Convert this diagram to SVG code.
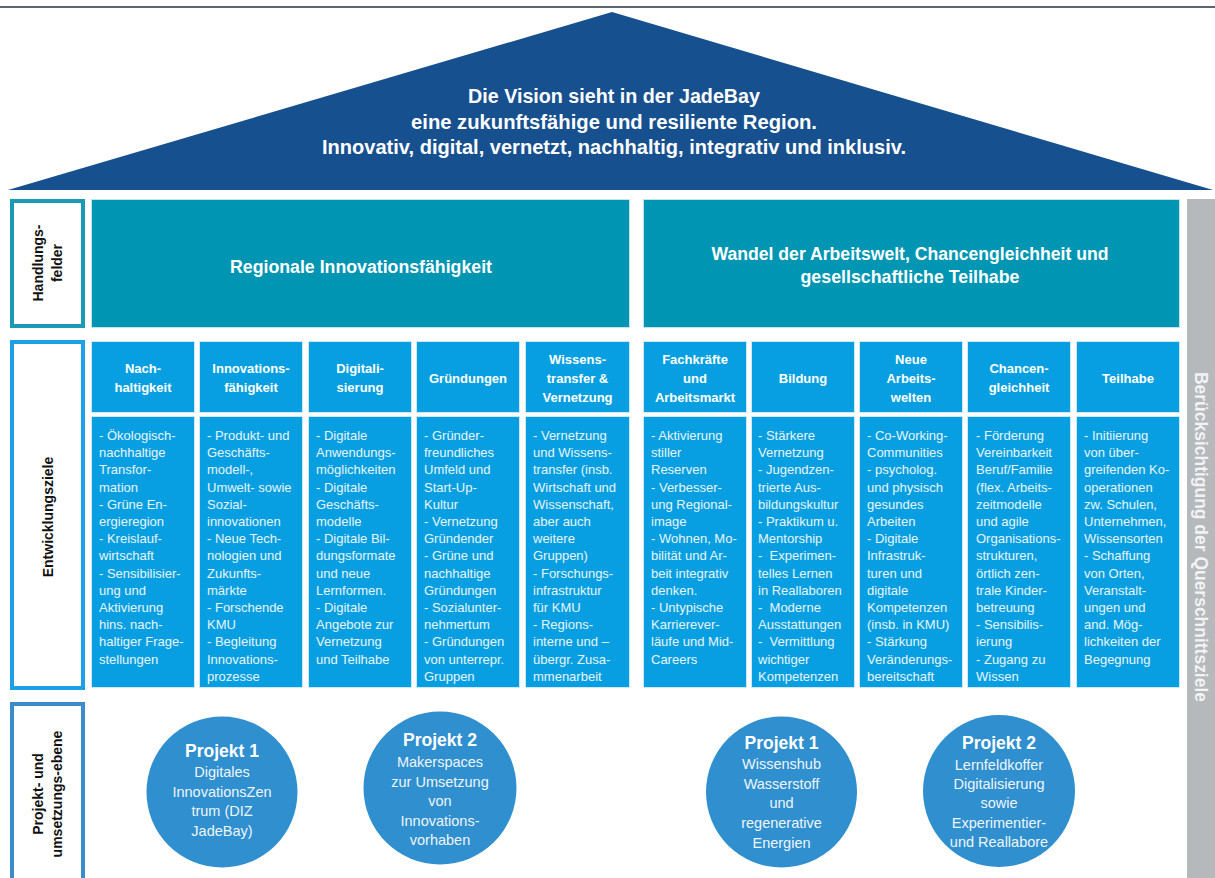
<svg xmlns="http://www.w3.org/2000/svg" width="1215" height="878" viewBox="0 0 1215 878">
<style>
.cell{fill:#079fe1;stroke:#cde9f8;stroke-width:1}
.teal{fill:#0096b3;stroke:#c4e4ec;stroke-width:1}
.ht{font-family:"Liberation Sans",Arial,sans-serif;font-weight:bold;font-size:13px;fill:#ffffff;text-anchor:middle}
.ct{font-family:"Liberation Sans",Arial,sans-serif;font-size:13px;fill:#e9f5fc}
.circ{fill:#2f8fcf}
.pt{font-family:"Liberation Sans",Arial,sans-serif;font-weight:bold;font-size:17.5px;fill:#ffffff;text-anchor:middle}
.pd{font-family:"Liberation Sans",Arial,sans-serif;font-size:14.5px;fill:#eef6fc;text-anchor:middle}
.lab{font-family:"Liberation Sans",Arial,sans-serif;font-weight:bold;font-size:14px;fill:#111111;text-anchor:middle}
.cond{font-family:"Liberation Sans Narrow","Liberation Sans",Arial,sans-serif;font-weight:bold;fill:#ffffff;text-anchor:middle}
</style>
<rect width="1215" height="878" fill="#ffffff"/>
<line x1="0" y1="7" x2="1215" y2="7" stroke="#5b6670" stroke-width="2"/>

<g id="roof">
<polygon points="8,190 612,12 1213,190" fill="#17508f"/>
<text class="cond" font-size="20" x="614" y="103" textLength="292" lengthAdjust="spacingAndGlyphs">Die Vision sieht in der JadeBay</text>
<text class="cond" font-size="20" x="614" y="129" textLength="406" lengthAdjust="spacingAndGlyphs">eine zukunftsfähige und resiliente Region.</text>
<text class="cond" font-size="20" x="614" y="154" textLength="584" lengthAdjust="spacingAndGlyphs">Innovativ, digital, vernetzt, nachhaltig, integrativ und inklusiv.</text>
</g>

<g id="label-handlungsfelder">
<rect x="12" y="201" width="71" height="125" fill="#ffffff" stroke="#1a9ab5" stroke-width="4"/>
<text class="lab" transform="translate(47.5,263) rotate(-90)"><tspan x="0" y="-4.5">Handlungs-</tspan><tspan x="0" y="14.5">felder</tspan></text>
</g>
<g id="label-entwicklungsziele">
<rect x="12" y="342" width="71" height="346" fill="#ffffff" stroke="#1ea0e6" stroke-width="4"/>
<text class="lab" transform="translate(47.5,517) rotate(-90)" x="0" y="5">Entwicklungsziele</text>
</g>
<g id="label-projektebene">
<rect x="12" y="704" width="71" height="180" fill="#ffffff" stroke="#3a8ccc" stroke-width="4"/>
<text class="lab" transform="translate(47.5,794) rotate(-90)"><tspan x="0" y="-4.5">Projekt- und</tspan><tspan x="0" y="14.5">umsetzungs-ebene</tspan></text>
</g>

<g id="querschnittsziele">
<rect x="1187" y="199" width="28" height="679" fill="#b5b9bb"/>
<text class="cond" font-size="18" fill="#f2f3f4" style="fill:#f2f3f4" transform="translate(1195,537) rotate(90)" x="0" y="0" textLength="330" lengthAdjust="spacingAndGlyphs">Berücksichtigung der Querschnittsziele</text>
</g>

<g id="handlungsfeld-1">
<rect class="teal" x="91.5" y="199.5" width="538" height="128"/>
<text class="cond" font-size="18" x="361" y="273" textLength="262" lengthAdjust="spacingAndGlyphs">Regionale Innovationsfähigkeit</text>
</g>
<g id="handlungsfeld-2">
<rect class="teal" x="643.5" y="199.5" width="536" height="128"/>
<text class="cond" font-size="18" x="910" y="260" textLength="397" lengthAdjust="spacingAndGlyphs">Wandel der Arbeitswelt, Chancengleichheit und</text>
<text class="cond" font-size="18" x="910" y="283" textLength="219" lengthAdjust="spacingAndGlyphs">gesellschaftliche Teilhabe</text>
</g>

<g id="ziel-nachhaltigkeit">
<rect class="cell" x="91.5" y="341.5" width="103" height="71"/>
<text class="ht"><tspan x="143" y="372.5">Nach-</tspan><tspan x="143" y="391.5">haltigkeit</tspan></text>
<rect class="cell" x="91.5" y="416.5" width="103" height="271"/>
<text class="ct" xml:space="preserve"><tspan x="99" y="440">- Ökologisch-</tspan><tspan x="99" dy="17.2">nachhaltige</tspan><tspan x="99" dy="17.2">Transfor-</tspan><tspan x="99" dy="17.2">mation</tspan><tspan x="99" dy="17.2">- Grüne En-</tspan><tspan x="99" dy="17.2">ergieregion</tspan><tspan x="99" dy="17.2">- Kreislauf-</tspan><tspan x="99" dy="17.2">wirtschaft</tspan><tspan x="99" dy="17.2">- Sensibilisier-</tspan><tspan x="99" dy="17.2">ung und</tspan><tspan x="99" dy="17.2">Aktivierung</tspan><tspan x="99" dy="17.2">hins. nach-</tspan><tspan x="99" dy="17.2">haltiger Frage-</tspan><tspan x="99" dy="17.2">stellungen</tspan></text>
</g>

<g id="ziel-innovationsfaehigkeit">
<rect class="cell" x="199.5" y="341.5" width="103" height="71"/>
<text class="ht"><tspan x="251" y="372.5">Innovations-</tspan><tspan x="251" y="391.5">fähigkeit</tspan></text>
<rect class="cell" x="199.5" y="416.5" width="103" height="271"/>
<text class="ct" xml:space="preserve"><tspan x="207" y="440">- Produkt- und</tspan><tspan x="207" dy="17.2">Geschäfts-</tspan><tspan x="207" dy="17.2">modell-,</tspan><tspan x="207" dy="17.2">Umwelt- sowie</tspan><tspan x="207" dy="17.2">Sozial-</tspan><tspan x="207" dy="17.2">innovationen</tspan><tspan x="207" dy="17.2">- Neue Tech-</tspan><tspan x="207" dy="17.2">nologien und</tspan><tspan x="207" dy="17.2">Zukunfts-</tspan><tspan x="207" dy="17.2">märkte</tspan><tspan x="207" dy="17.2">- Forschende</tspan><tspan x="207" dy="17.2">KMU</tspan><tspan x="207" dy="17.2">- Begleitung</tspan><tspan x="207" dy="17.2">Innovations-</tspan><tspan x="207" dy="17.2">prozesse</tspan></text>
</g>

<g id="ziel-digitalisierung">
<rect class="cell" x="308.5" y="341.5" width="103" height="71"/>
<text class="ht"><tspan x="360" y="372.5">Digitali-</tspan><tspan x="360" y="391.5">sierung</tspan></text>
<rect class="cell" x="308.5" y="416.5" width="103" height="271"/>
<text class="ct" xml:space="preserve"><tspan x="316" y="440">- Digitale</tspan><tspan x="316" dy="17.2">Anwendungs-</tspan><tspan x="316" dy="17.2">möglichkeiten</tspan><tspan x="316" dy="17.2">- Digitale</tspan><tspan x="316" dy="17.2">Geschäfts-</tspan><tspan x="316" dy="17.2">modelle</tspan><tspan x="316" dy="17.2">- Digitale Bil-</tspan><tspan x="316" dy="17.2">dungsformate</tspan><tspan x="316" dy="17.2">und neue</tspan><tspan x="316" dy="17.2">Lernformen.</tspan><tspan x="316" dy="17.2">- Digitale</tspan><tspan x="316" dy="17.2">Angebote zur</tspan><tspan x="316" dy="17.2">Vernetzung</tspan><tspan x="316" dy="17.2">und Teilhabe</tspan></text>
</g>

<g id="ziel-gruendungen">
<rect class="cell" x="416.5" y="341.5" width="103" height="71"/>
<text class="ht" x="468" y="382.5">Gründungen</text>
<rect class="cell" x="416.5" y="416.5" width="103" height="271"/>
<text class="ct" xml:space="preserve"><tspan x="424" y="440">- Gründer-</tspan><tspan x="424" dy="17.2">freundliches</tspan><tspan x="424" dy="17.2">Umfeld und</tspan><tspan x="424" dy="17.2">Start-Up-</tspan><tspan x="424" dy="17.2">Kultur</tspan><tspan x="424" dy="17.2">- Vernetzung</tspan><tspan x="424" dy="17.2">Gründender</tspan><tspan x="424" dy="17.2">- Grüne und</tspan><tspan x="424" dy="17.2">nachhaltige</tspan><tspan x="424" dy="17.2">Gründungen</tspan><tspan x="424" dy="17.2">- Sozialunter-</tspan><tspan x="424" dy="17.2">nehmertum</tspan><tspan x="424" dy="17.2">- Gründungen</tspan><tspan x="424" dy="17.2">von unterrepr.</tspan><tspan x="424" dy="17.2">Gruppen</tspan></text>
</g>

<g id="ziel-wissenstransfer">
<rect class="cell" x="525.5" y="341.5" width="104" height="71"/>
<text class="ht"><tspan x="577.5" y="363.5">Wissens-</tspan><tspan x="577.5" y="382.5">transfer &amp;</tspan><tspan x="577.5" y="401.5">Vernetzung</tspan></text>
<rect class="cell" x="525.5" y="416.5" width="104" height="271"/>
<text class="ct" xml:space="preserve"><tspan x="533" y="440">- Vernetzung</tspan><tspan x="533" dy="17.2">und Wissens-</tspan><tspan x="533" dy="17.2">transfer (insb.</tspan><tspan x="533" dy="17.2">Wirtschaft und</tspan><tspan x="533" dy="17.2">Wissenschaft,</tspan><tspan x="533" dy="17.2">aber auch</tspan><tspan x="533" dy="17.2">weitere</tspan><tspan x="533" dy="17.2">Gruppen)</tspan><tspan x="533" dy="17.2">- Forschungs-</tspan><tspan x="533" dy="17.2">infrastruktur</tspan><tspan x="533" dy="17.2">für KMU</tspan><tspan x="533" dy="17.2">- Regions-</tspan><tspan x="533" dy="17.2">interne und –</tspan><tspan x="533" dy="17.2">übergr. Zusa-</tspan><tspan x="533" dy="17.2">mmenarbeit</tspan></text>
</g>

<g id="ziel-fachkraefte">
<rect class="cell" x="643.5" y="341.5" width="103" height="71"/>
<text class="ht"><tspan x="695" y="363.5">Fachkräfte</tspan><tspan x="695" y="382.5">und</tspan><tspan x="695" y="401.5">Arbeitsmarkt</tspan></text>
<rect class="cell" x="643.5" y="416.5" width="103" height="271"/>
<text class="ct" xml:space="preserve"><tspan x="651" y="440">- Aktivierung</tspan><tspan x="651" dy="17.2">stiller</tspan><tspan x="651" dy="17.2">Reserven</tspan><tspan x="651" dy="17.2">- Verbesser-</tspan><tspan x="651" dy="17.2">ung Regional-</tspan><tspan x="651" dy="17.2">image</tspan><tspan x="651" dy="17.2">- Wohnen, Mo-</tspan><tspan x="651" dy="17.2">bilität und Ar-</tspan><tspan x="651" dy="17.2">beit integrativ</tspan><tspan x="651" dy="17.2">denken.</tspan><tspan x="651" dy="17.2">- Untypische</tspan><tspan x="651" dy="17.2">Karrierever-</tspan><tspan x="651" dy="17.2">läufe und Mid-</tspan><tspan x="651" dy="17.2">Careers</tspan></text>
</g>

<g id="ziel-bildung">
<rect class="cell" x="751.5" y="341.5" width="103" height="71"/>
<text class="ht" x="803" y="382.5">Bildung</text>
<rect class="cell" x="751.5" y="416.5" width="103" height="271"/>
<text class="ct" xml:space="preserve"><tspan x="758" y="440">- Stärkere</tspan><tspan x="758" dy="17.2">Vernetzung</tspan><tspan x="758" dy="17.2">- Jugendzen-</tspan><tspan x="758" dy="17.2">trierte Aus-</tspan><tspan x="758" dy="17.2">bildungskultur</tspan><tspan x="758" dy="17.2">- Praktikum u.</tspan><tspan x="758" dy="17.2">Mentorship</tspan><tspan x="758" dy="17.2">-  Experimen-</tspan><tspan x="758" dy="17.2">telles Lernen</tspan><tspan x="758" dy="17.2">in Reallaboren</tspan><tspan x="758" dy="17.2">-  Moderne</tspan><tspan x="758" dy="17.2">Ausstattungen</tspan><tspan x="758" dy="17.2">-  Vermittlung</tspan><tspan x="758" dy="17.2">wichtiger</tspan><tspan x="758" dy="17.2">Kompetenzen</tspan></text>
</g>

<g id="ziel-arbeitswelten">
<rect class="cell" x="859.5" y="341.5" width="103" height="71"/>
<text class="ht"><tspan x="911" y="363.5">Neue</tspan><tspan x="911" y="382.5">Arbeits-</tspan><tspan x="911" y="401.5">welten</tspan></text>
<rect class="cell" x="859.5" y="416.5" width="103" height="271"/>
<text class="ct" xml:space="preserve"><tspan x="867" y="440">- Co-Working-</tspan><tspan x="867" dy="17.2">Communities</tspan><tspan x="867" dy="17.2">- psycholog.</tspan><tspan x="867" dy="17.2">und physisch</tspan><tspan x="867" dy="17.2">gesundes</tspan><tspan x="867" dy="17.2">Arbeiten</tspan><tspan x="867" dy="17.2">- Digitale</tspan><tspan x="867" dy="17.2">Infrastruk-</tspan><tspan x="867" dy="17.2">turen und</tspan><tspan x="867" dy="17.2">digitale</tspan><tspan x="867" dy="17.2">Kompetenzen</tspan><tspan x="867" dy="17.2">(insb. in KMU)</tspan><tspan x="867" dy="17.2">- Stärkung</tspan><tspan x="867" dy="17.2">Veränderungs-</tspan><tspan x="867" dy="17.2">bereitschaft</tspan></text>
</g>

<g id="ziel-chancengleichheit">
<rect class="cell" x="967.5" y="341.5" width="103" height="71"/>
<text class="ht"><tspan x="1019" y="372.5">Chancen-</tspan><tspan x="1019" y="391.5">gleichheit</tspan></text>
<rect class="cell" x="967.5" y="416.5" width="103" height="271"/>
<text class="ct" xml:space="preserve"><tspan x="976" y="440">- Förderung</tspan><tspan x="976" dy="17.2">Vereinbarkeit</tspan><tspan x="976" dy="17.2">Beruf/Familie</tspan><tspan x="976" dy="17.2">(flex. Arbeits-</tspan><tspan x="976" dy="17.2">zeitmodelle</tspan><tspan x="976" dy="17.2">und agile</tspan><tspan x="976" dy="17.2">Organisations-</tspan><tspan x="976" dy="17.2">strukturen,</tspan><tspan x="976" dy="17.2">örtlich zen-</tspan><tspan x="976" dy="17.2">trale Kinder-</tspan><tspan x="976" dy="17.2">betreuung</tspan><tspan x="976" dy="17.2">- Sensibilis-</tspan><tspan x="976" dy="17.2">ierung</tspan><tspan x="976" dy="17.2">- Zugang zu</tspan><tspan x="976" dy="17.2">Wissen</tspan></text>
</g>

<g id="ziel-teilhabe">
<rect class="cell" x="1076.5" y="341.5" width="103" height="71"/>
<text class="ht" x="1128" y="382.5">Teilhabe</text>
<rect class="cell" x="1076.5" y="416.5" width="103" height="271"/>
<text class="ct" xml:space="preserve"><tspan x="1084" y="440">- Initiierung</tspan><tspan x="1084" dy="17.2">von über-</tspan><tspan x="1084" dy="17.2">greifenden Ko-</tspan><tspan x="1084" dy="17.2">operationen</tspan><tspan x="1084" dy="17.2">zw. Schulen,</tspan><tspan x="1084" dy="17.2">Unternehmen,</tspan><tspan x="1084" dy="17.2">Wissensorten</tspan><tspan x="1084" dy="17.2">- Schaffung</tspan><tspan x="1084" dy="17.2">von Orten,</tspan><tspan x="1084" dy="17.2">Veranstalt-</tspan><tspan x="1084" dy="17.2">ungen und</tspan><tspan x="1084" dy="17.2">and. Mög-</tspan><tspan x="1084" dy="17.2">lichkeiten der</tspan><tspan x="1084" dy="17.2">Begegnung</tspan></text>
</g>

<g id="projekt-1-links">
<circle class="circ" cx="222" cy="792" r="75.5"/>
<text class="pt" x="222" y="757">Projekt 1</text>
<text class="pd"><tspan x="222" y="777">Digitales</tspan><tspan x="222" y="796.5">InnovationsZen</tspan><tspan x="222" y="816">trum (DIZ</tspan><tspan x="222" y="835.5">JadeBay)</tspan></text>
</g>
<g id="projekt-2-links">
<circle class="circ" cx="440" cy="788" r="76.5"/>
<text class="pt" x="440" y="746">Projekt 2</text>
<text class="pd"><tspan x="440" y="767">Makerspaces</tspan><tspan x="440" y="787">zur Umsetzung</tspan><tspan x="440" y="806">von</tspan><tspan x="440" y="826">Innovations-</tspan><tspan x="440" y="845">vorhaben</tspan></text>
</g>
<g id="projekt-1-rechts">
<circle class="circ" cx="781.5" cy="792" r="75.5"/>
<text class="pt" x="781.5" y="749">Projekt 1</text>
<text class="pd"><tspan x="781.5" y="769">Wissenshub</tspan><tspan x="781.5" y="789">Wasserstoff</tspan><tspan x="781.5" y="808">und</tspan><tspan x="781.5" y="828">regenerative</tspan><tspan x="781.5" y="848">Energien</tspan></text>
</g>
<g id="projekt-2-rechts">
<circle class="circ" cx="999" cy="791" r="76"/>
<text class="pt" x="999" y="749">Projekt 2</text>
<text class="pd"><tspan x="999" y="770">Lernfeldkoffer</tspan><tspan x="999" y="789">Digitalisierung</tspan><tspan x="999" y="808">sowie</tspan><tspan x="999" y="828">Experimentier-</tspan><tspan x="999" y="847">und Reallabore</tspan></text>
</g>

<g id="connectors"></g>
</svg>
